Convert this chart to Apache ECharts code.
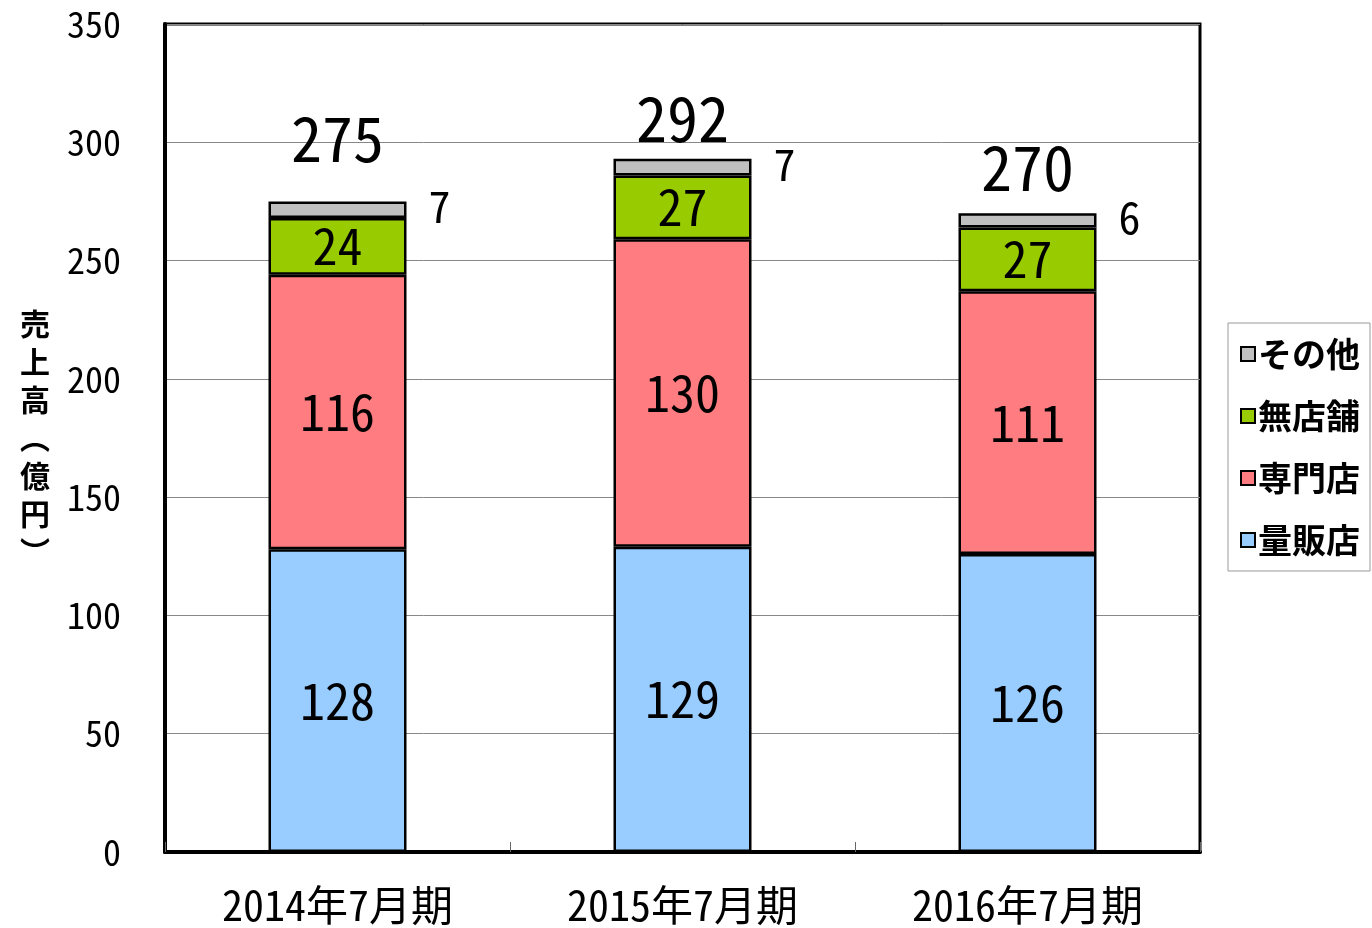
<!DOCTYPE html>
<html><head><meta charset="utf-8">
<script src="https://cdn.jsdelivr.net/npm/echarts@6/dist/echarts.min.js"></script>
<style>html,body{margin:0;padding:0;background:#fff}#c{width:1372px;height:928px}</style>
</head><body><div id="c"></div>
<script>
const categories = ['2014年7月期', '2015年7月期', '2016年7月期'];
const ryohanten = [128, 129, 126];
const senmonten = [116, 130, 111];
const mutenpo = [24, 27, 27];
const sonota = [7, 7, 6];
const totals = [275, 292, 270];
const seriesNames = ['量販店', '専門店', '無店舗', 'その他'];
const legendOrder = ['その他', '無店舗', '専門店', '量販店'];

const NUM = "'Noto Sans Mono CJK JP','Noto Sans CJK JP',sans-serif";
const JP = "'Noto Sans CJK JP',sans-serif";
const W = 500;
const colors = ['#99CCFF', '#FF7C80', '#99CC00', '#C0C0C0'];
const values = [ryohanten, senmonten, mutenpo, sonota];
const totalOffsets = [-27, -7, -10];

const chart = echarts.init(document.getElementById('c'));
const series = seriesNames.map((n, i) => ({
  name: n, type: 'bar', stack: 's', barWidth: '40%',
  data: values[i],
  itemStyle: { color: colors[i], borderColor: '#000', borderWidth: 2.5 },
  label: i < 3 ? {
    show: true, position: 'inside', color: '#000',
    fontFamily: NUM, fontSize: 50, fontWeight: W
  } : {
    show: true, position: 'right', distance: 22, offset: [0, -3], color: '#000',
    fontFamily: NUM, fontSize: 44, fontWeight: W
  }
}));
series.push({
  name: 'total', type: 'scatter', symbolSize: 0, silent: true,
  itemStyle: { opacity: 1 },
  data: totals.map((v, i) => ({ value: v, label: { offset: [0, totalOffsets[i]] } })),
  label: { show: true, position: 'top', color: '#000', fontFamily: NUM, fontSize: 62, fontWeight: W,
    formatter: p => totals[p.dataIndex] }
});

chart.setOption({
  animation: false,
  grid: { left: 165, right: 172, top: 24, bottom: 76, show: true, borderColor: '#000', borderWidth: 3 },
  legend: {
    data: legendOrder, orient: 'vertical', right: 2, top: 323,
    padding: [14, 10, 14, 12], itemGap: 28, itemWidth: 14, itemHeight: 14,
    borderColor: '#999', borderWidth: 1, icon: 'rect',
    textStyle: { fontFamily: JP, fontSize: 34, fontWeight: 'bold', color: '#000', padding: [0, 0, 0, -2] }
  },
  xAxis: {
    type: 'category', data: categories,
    axisLine: { lineStyle: { color: '#000', width: 4 } },
    axisTick: { show: true, inside: true, length: 10, lineStyle: { color: '#666', width: 1 } },
    axisLabel: { color: '#000', fontFamily: NUM, fontSize: 42, fontWeight: W, margin: 32 }
  },
  yAxis: {
    type: 'value', min: 0, max: 350, interval: 50,
    name: '売\n上\n高\n︵\n億\n円\n︶', nameLocation: 'middle', nameGap: 115, nameRotate: 0,
    nameTextStyle: { fontFamily: JP, fontSize: 30, fontWeight: 'bold', color: '#000', lineHeight: 38 },
    axisLine: { show: true, lineStyle: { color: '#000', width: 4 } },
    axisTick: { show: false },
    axisLabel: { color: '#000', fontFamily: NUM, fontSize: 36, fontWeight: W, margin: 44 },
    splitLine: { lineStyle: { color: '#888', width: 1 } }
  },
  series: series
});
</script></body></html>
